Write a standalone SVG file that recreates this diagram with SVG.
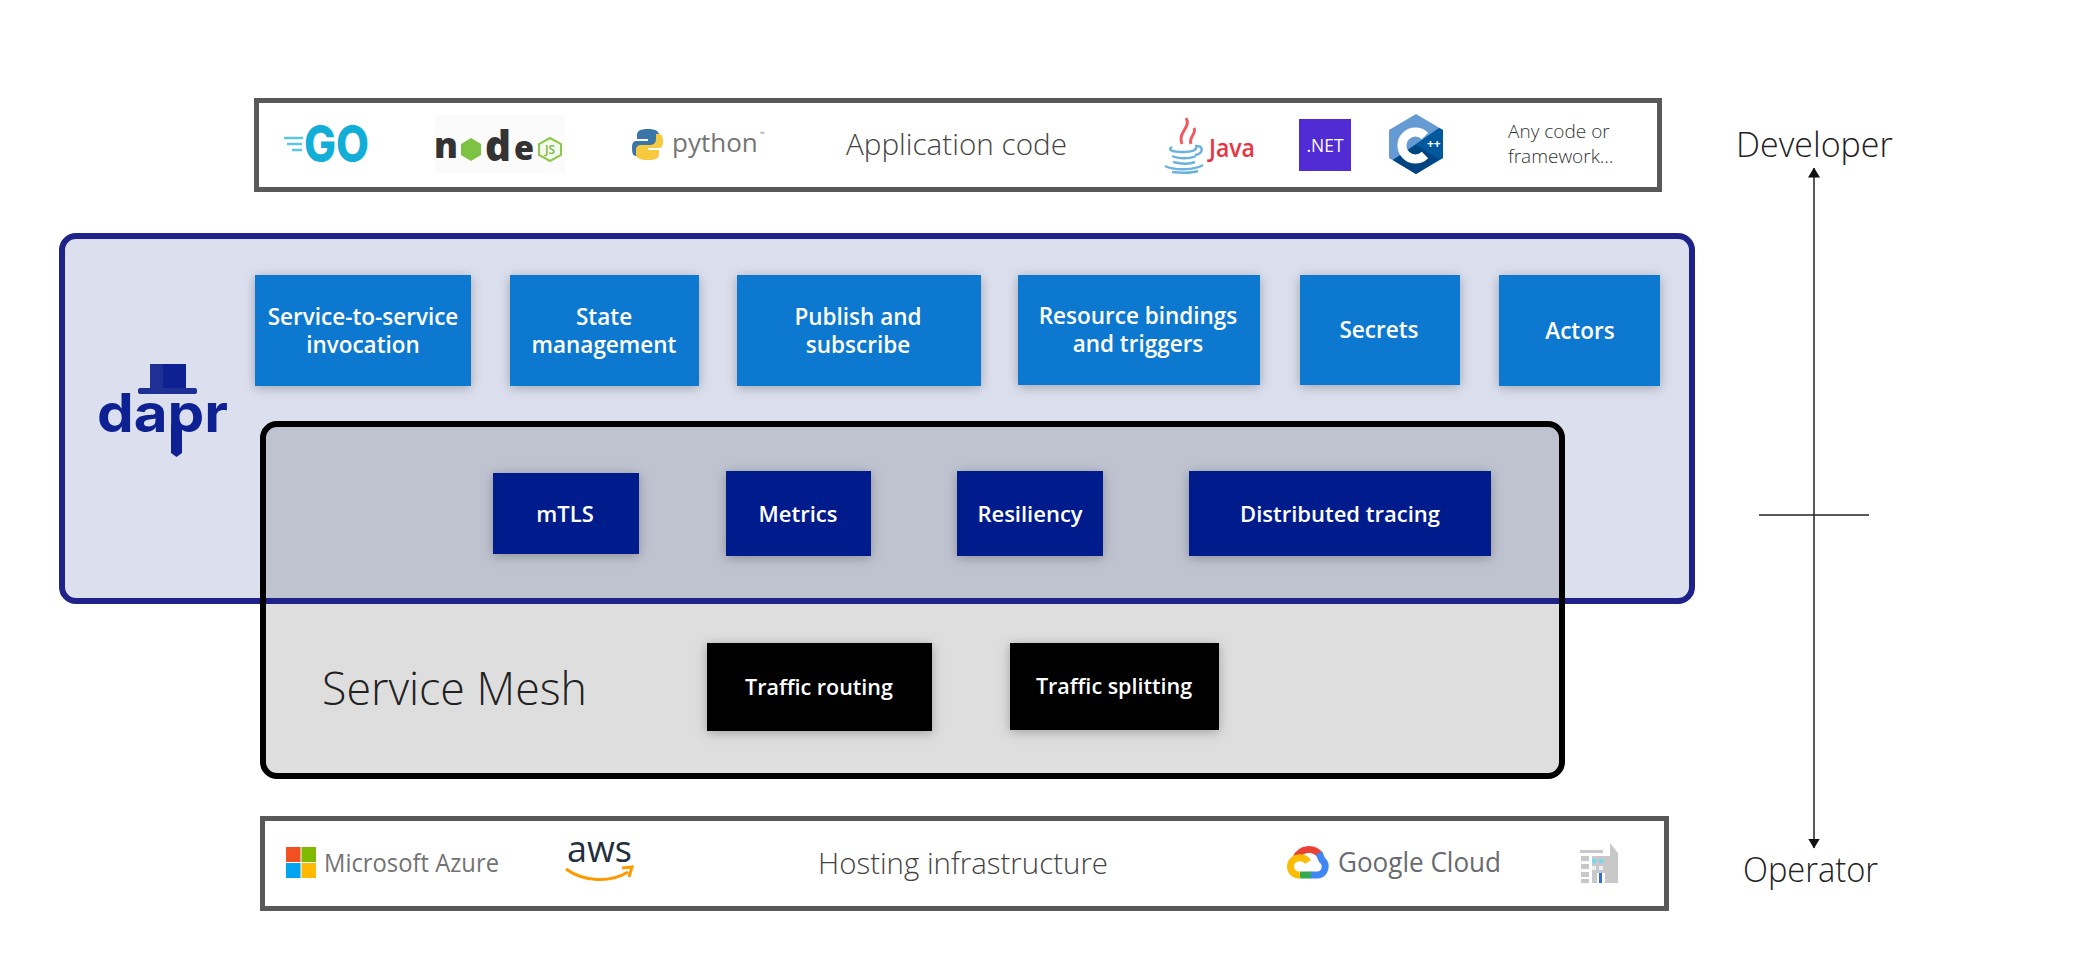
<svg xmlns="http://www.w3.org/2000/svg" width="2084" height="966" viewBox="0 0 2084 966">
<defs>
<filter id="sh" x="-20%" y="-20%" width="140%" height="140%"><feDropShadow dx="0" dy="2" stdDeviation="6" flood-color="#000" flood-opacity="0.28"/></filter>
<marker id="arr" viewBox="0 0 10 10" refX="9.5" refY="5" markerWidth="10" markerHeight="12" markerUnits="userSpaceOnUse" orient="auto-start-reverse" preserveAspectRatio="none"><path d="M0 0L10 5L0 10Z" fill="#111"/></marker>
</defs>
<style>
text{font-family:"Open Sans","Noto Sans","Liberation Sans",sans-serif}
.inter{font-family:Inter,"Open Sans",sans-serif}
.frame{fill:#fff;stroke:#595959;stroke-width:5}
.svc{fill:#0a78d0;filter:url(#sh)}
.sec{fill:#001a8c;filter:url(#sh)}
.blk{fill:#000;filter:url(#sh)}
.lb{fill:#fff;font-size:22.500px;font-weight:600;text-anchor:middle}
.lb2{font-size:22px}
.lb3{font-size:21.500px}
.big{font-weight:300;fill:#444}
.role{font-weight:300;fill:#222;font-size:34px}
.nd{font-weight:800;fill:#333}
</style>
<rect width="2084" height="966" fill="#fff"/>

<g id="application-code">
<rect class="frame" x="256.500" y="100.500" width="1403" height="89"/>
<text class="big" x="846" y="155" font-size="29" textLength="221" lengthAdjust="spacingAndGlyphs">Application code</text>
<g id="logo-go">
<path d="M284 138h19M287 144h15M292 150h10" stroke="#5cc6e4" stroke-width="2.500" fill="none"/>
<text class="inter" x="304" y="162" font-size="51" font-weight="800" fill="#13aed8" textLength="65" lengthAdjust="spacingAndGlyphs">GO</text>
</g>
<g id="logo-node">
<rect x="435" y="115" width="130" height="58" fill="#fbfbfb"/>
<text class="nd" x="434" y="158" font-size="35" textLength="24" lengthAdjust="spacingAndGlyphs">n</text>
<path d="M471 138L481 144V155L471 161L461 155V144Z" fill="#7dc242"/>
<text class="nd" x="485" y="161" font-size="42" textLength="26" lengthAdjust="spacingAndGlyphs">d</text>
<text class="nd" x="514" y="160" font-size="34" textLength="20" lengthAdjust="spacingAndGlyphs">e</text>
<path d="M550 138L561 144V155L550 161L539 155V144Z" fill="#f3f9ec" stroke="#8cc84b" stroke-width="2"/>
<text x="550" y="154" font-size="12" font-weight="600" fill="#7fb545" text-anchor="middle">JS</text>
</g>
<g id="logo-python">
<path d="M648 129c-8 0-11 2-11 6v4h11v2h-12c-3 0-4 3-4 7c0 5 1 8 4 8h3v-5c0-3 2-6 6-6h9c3 0 5-2 5-5v-5c0-4-4-6-11-6z" fill="#3a75a8"/>
<path d="M648 160c8 0 11-2 11-6v-4h-11v-2h11c3 0 4-3 4-6c0-5-1-8-4-8h-3v5c0 3-2 6-6 6h-9c-3 0-5 2-5 5v4c0 4 4 6 12 6z" fill="#f7c93e"/>
<text x="672" y="152" font-size="26" font-weight="400" fill="#757575">python</text>
<text x="760" y="136" font-size="6" fill="#888">™</text>
</g>
<g id="logo-java">
<path d="M1186 118c6 9-9 14-4 26M1194 128c3 6-6 9-3 16" stroke="#ee5a60" stroke-width="3" fill="none"/>
<path d="M1172 147c-5 3 0 5 12 5c8 0 13-2 12-5M1172 156c6 3 18 3 24 0M1173 162c8 2 17 2 22 0M1195 146c9-1 9 7 0 9M1165 166c10 5 30 4 38-1M1172 172c10 1 20 1 26-1" stroke="#6bb3de" stroke-width="2.500" fill="none"/>
<text x="1209" y="157" font-size="26" font-weight="600" fill="#e8343f" textLength="46" lengthAdjust="spacingAndGlyphs">Java</text>
</g>
<g id="logo-dotnet">
<rect x="1299" y="119" width="52" height="52" fill="#512bd4"/>
<text x="1325" y="152" font-size="18" font-weight="500" fill="#fff" text-anchor="middle" textLength="37" lengthAdjust="spacingAndGlyphs">.NET</text>
</g>
<g id="logo-cpp">
<path d="M1416 114L1443 130V158L1416 174L1389 158V130Z" fill="#659ad2"/>
<path d="M1439 128L1443 130V158L1416 174L1393 160Z" fill="#00599c"/>
<path d="M1416 145L1439 159L1416 174L1393 160Z" fill="#004482"/>
<path d="M1425 136A13.500 13.500 0 1 0 1425 155" fill="none" stroke="#fff" stroke-width="9"/>
<text x="1427" y="148" font-size="12" font-weight="700" fill="#fff">++</text>
</g>
<text x="1508" y="138" font-size="19" font-weight="300" fill="#333">Any code or</text>
<text x="1508" y="163" font-size="19" font-weight="300" fill="#333">framework…</text>
</g>

<g id="dapr">
<rect x="62" y="236" width="1630" height="365" rx="14" fill="#dcdfee"/>
<g id="logo-dapr" fill="#0d2192">
<rect x="150" y="364" width="36" height="25"/>
<rect x="150" y="364" width="13" height="25" fill="#1f3095"/>
<rect x="138" y="388" width="59" height="6" rx="2" fill="#1f3095"/>
<path d="M171 425h11v28l-5.500 4l-5.500-4z"/>
<text class="inter" x="97" y="432" font-size="54" font-weight="700" textLength="131" lengthAdjust="spacingAndGlyphs">dapr</text>
</g>
</g>

<g id="service-mesh">
<rect x="263" y="424" width="1299" height="352" rx="14" fill="#dedede"/>
<path d="M263 601V438a14 14 0 0 1 14-14H1548a14 14 0 0 1 14 14V601Z" fill="#bfc3d0"/>
<rect x="62" y="236" width="1630" height="365" rx="14" fill="none" stroke="#1f2289" stroke-width="6"/>
<rect x="263" y="424" width="1299" height="352" rx="14" fill="none" stroke="#000" stroke-width="6"/>
<text x="322" y="705" font-size="46" font-weight="300" fill="#222" textLength="265" lengthAdjust="spacingAndGlyphs">Service Mesh</text>
</g>

<g id="service-invocation"><rect class="svc" x="255" y="275" width="216" height="111"/><text class="lb" x="363" y="325">Service-to-service</text><text class="lb" x="363" y="353">invocation</text></g>
<g id="state-management"><rect class="svc" x="510" y="275" width="189" height="111"/><text class="lb" x="604" y="325">State</text><text class="lb" x="604" y="353">management</text></g>
<g id="pubsub"><rect class="svc" x="737" y="275" width="244" height="111"/><text class="lb" x="858" y="325">Publish and</text><text class="lb" x="858" y="353">subscribe</text></g>
<g id="bindings"><rect class="svc" x="1018" y="275" width="242" height="110"/><text class="lb" x="1138" y="324">Resource bindings</text><text class="lb" x="1138" y="352">and triggers</text></g>
<g id="secrets"><rect class="svc" x="1300" y="275" width="160" height="110"/><text class="lb" x="1379" y="338">Secrets</text></g>
<g id="actors"><rect class="svc" x="1499" y="275" width="161" height="111"/><text class="lb" x="1580" y="339">Actors</text></g>

<g id="mtls"><rect class="sec" x="493" y="473" width="146" height="81"/><text class="lb lb2" x="565" y="522">mTLS</text></g>
<g id="metrics"><rect class="sec" x="726" y="471" width="145" height="85"/><text class="lb lb2" x="798" y="522">Metrics</text></g>
<g id="resiliency"><rect class="sec" x="957" y="471" width="146" height="85"/><text class="lb lb2" x="1030" y="522">Resiliency</text></g>
<g id="tracing"><rect class="sec" x="1189" y="471" width="302" height="85"/><text class="lb lb2" x="1340" y="522">Distributed tracing</text></g>

<g id="traffic-routing"><rect class="blk" x="707" y="643" width="225" height="88"/><text class="lb lb3" x="819" y="695">Traffic routing</text></g>
<g id="traffic-splitting"><rect class="blk" x="1010" y="643" width="209" height="87"/><text class="lb lb3" x="1114" y="694">Traffic splitting</text></g>

<g id="hosting-infrastructure">
<rect class="frame" x="262.500" y="818.500" width="1404" height="90"/>
<text class="big" x="818" y="874" font-size="29" textLength="290" lengthAdjust="spacingAndGlyphs">Hosting infrastructure</text>
<g id="logo-azure">
<rect x="286" y="847" width="14.500" height="15" fill="#f25022"/><rect x="301.500" y="847" width="14.500" height="15" fill="#7fba00"/>
<rect x="286" y="863" width="14.500" height="15" fill="#00a4ef"/><rect x="301.500" y="863" width="14.500" height="15" fill="#ffb900"/>
<text x="324" y="872" font-size="25" font-weight="500" fill="#737373" textLength="175" lengthAdjust="spacingAndGlyphs">Microsoft Azure</text>
</g>
<g id="logo-aws">
<text x="567" y="862" font-size="37" font-weight="500" fill="#232f3e" textLength="65" lengthAdjust="spacingAndGlyphs">aws</text>
<path d="M566 869c18 13 44 14 62 3M622 868l10-1l-3 10" stroke="#f90" stroke-width="3" fill="none"/>
</g>
<g id="logo-gcloud" transform="translate(2 0)">
<path d="M1294 858A14 14 0 0 1 1318 855" stroke="#ea4335" stroke-width="7" fill="none"/>
<path d="M1317 853L1320 860A8.500 8.500 0 0 1 1316 875H1308" stroke="#4285f4" stroke-width="7" fill="none"/>
<path d="M1309 875H1298" stroke="#34a853" stroke-width="7" fill="none"/>
<path d="M1298 875A8.500 8.500 0 0 1 1296 858A9 9 0 0 1 1306 862" stroke="#fbbc05" stroke-width="7" fill="none"/>
<text x="1336" y="872" font-size="27" font-weight="500" fill="#686b70" textLength="163" lengthAdjust="spacingAndGlyphs">Google Cloud</text>
</g>
<g id="logo-building">
<rect x="1580" y="850" width="23" height="3" fill="#c8c8c8"/>
<path d="M1581 856h8v5h-8zM1581 864h8v5h-8zM1581 872h8v5h-8zM1581 879h8v4h-8z" fill="#c8c8c8"/>
<path d="M1592 856h18v27h-5v-10h-8v10h-5z" fill="#c8c8c8"/>
<path d="M1610 843l8 10v30h-8z" fill="#c8c8c8"/>
<path d="M1592 859h4v4h-4zM1599 859h4v4h-4z" fill="#6bdcf5"/>
<path d="M1592 866h4v4h-4zM1599 866h4v4h-4z" fill="#eee"/>
<rect x="1599" y="873" width="3" height="10" fill="#2f6fd0"/>
</g>
</g>

<g id="developer"><text class="role" x="1736" y="157">Developer</text></g>
<g id="operator"><text class="role" x="1743" y="882" textLength="135" lengthAdjust="spacingAndGlyphs">Operator</text></g>

<g id="connectors">
<line x1="1814" y1="168" x2="1814" y2="848" stroke="#222" stroke-width="1.500" marker-start="url(#arr)" marker-end="url(#arr)"/>
<line x1="1759" y1="515" x2="1869" y2="515" stroke="#222" stroke-width="1.500"/>
</g>
</svg>
